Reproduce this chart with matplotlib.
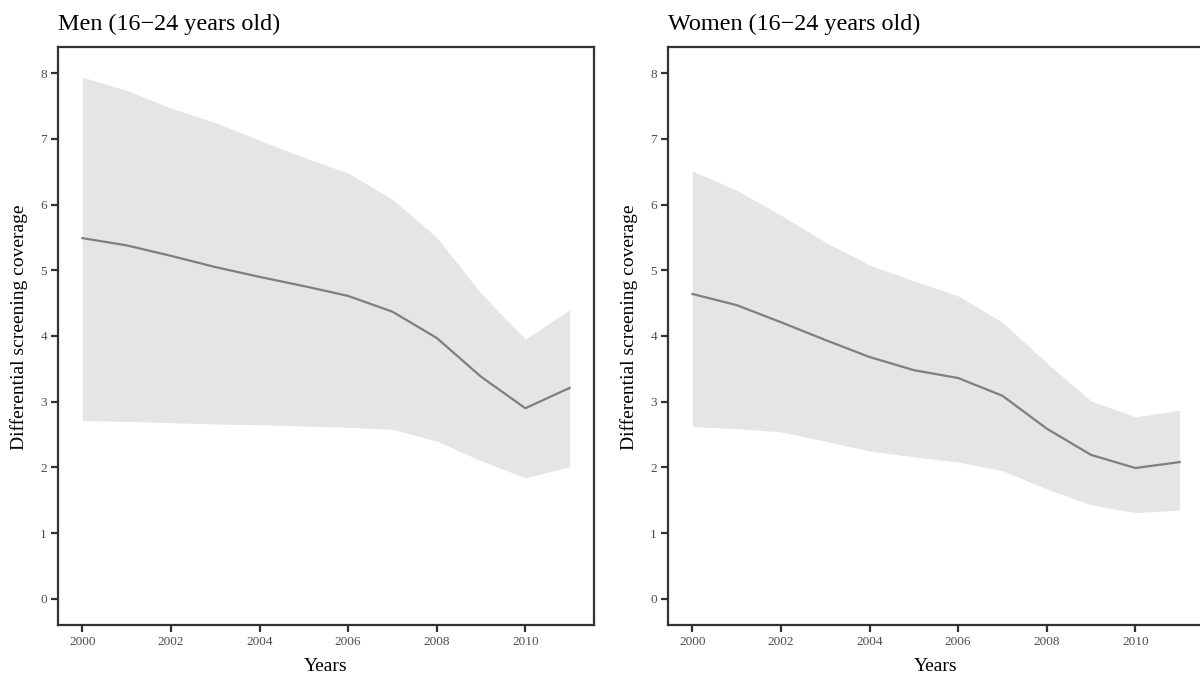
import numpy as np
import matplotlib.pyplot as plt

years = np.arange(2000, 2012)

# men 16-24
men_mean = [5.49, 5.38, 5.22, 5.05, 4.90, 4.76, 4.61, 4.37, 3.97, 3.38, 2.90, 3.21]
men_lo = [2.71, 2.70, 2.68, 2.66, 2.65, 2.63, 2.61, 2.58, 2.40, 2.10, 1.84, 2.01]
men_hi = [7.94, 7.74, 7.47, 7.25, 6.98, 6.72, 6.48, 6.08, 5.50, 4.65, 3.95, 4.40]

# women 16-24
women_mean = [4.64, 4.47, 4.21, 3.94, 3.68, 3.48, 3.36, 3.09, 2.59, 2.19, 1.99, 2.08]
women_lo = [2.62, 2.59, 2.54, 2.40, 2.25, 2.16, 2.08, 1.95, 1.67, 1.43, 1.31, 1.35]
women_hi = [6.51, 6.22, 5.84, 5.43, 5.08, 4.84, 4.61, 4.21, 3.59, 3.01, 2.77, 2.87]

titles = ['Men (16\u221224 years old)', 'Women (16\u221224 years old)']
xticks = [2000, 2002, 2004, 2006, 2008, 2010]
yticks = [0, 1, 2, 3, 4, 5, 6, 7, 8]

plt.rcParams['font.family'] = ['Liberation Serif', 'DejaVu Serif']

fig = plt.figure(figsize=(12, 6.79), dpi=100)
W, H = 1200, 679
ax1 = fig.add_axes([58 / W, (H - 625) / H, 536 / W, 578 / H])
ax2 = fig.add_axes([668 / W, (H - 625) / H, 536 / W, 578 / H])

series = [(men_mean, men_lo, men_hi), (women_mean, women_lo, women_hi)]
for ax, (m, lo, hi), t in zip([ax1, ax2], series, titles):
    ax.fill_between(years, lo, hi, color='#E5E5E5', linewidth=0)
    ax.plot(years, m, color='#7F7F7F', linewidth=1.6)
    ax.set_xlim(1999.45, 2011.55)
    ax.set_ylim(-0.4, 8.4)
    ax.set_xticks(xticks)
    ax.set_yticks(yticks)
    for s in ax.spines.values():
        s.set_linewidth(1.6)
        s.set_color('#333333')
    ax.tick_params(length=5, width=1.6, color='#333333', labelcolor='#4D4D4D',
                   labelsize=9.5, pad=3)
    ax.set_title(t, loc='left', fontsize=17.4, pad=12)
    ax.set_xlabel('Years', fontsize=14, labelpad=7)
    ax.set_ylabel('Differential screening coverage', fontsize=14)
    ax.yaxis.set_label_coords(-0.056, 0.515)

fig.savefig('out.png', dpi=100)
